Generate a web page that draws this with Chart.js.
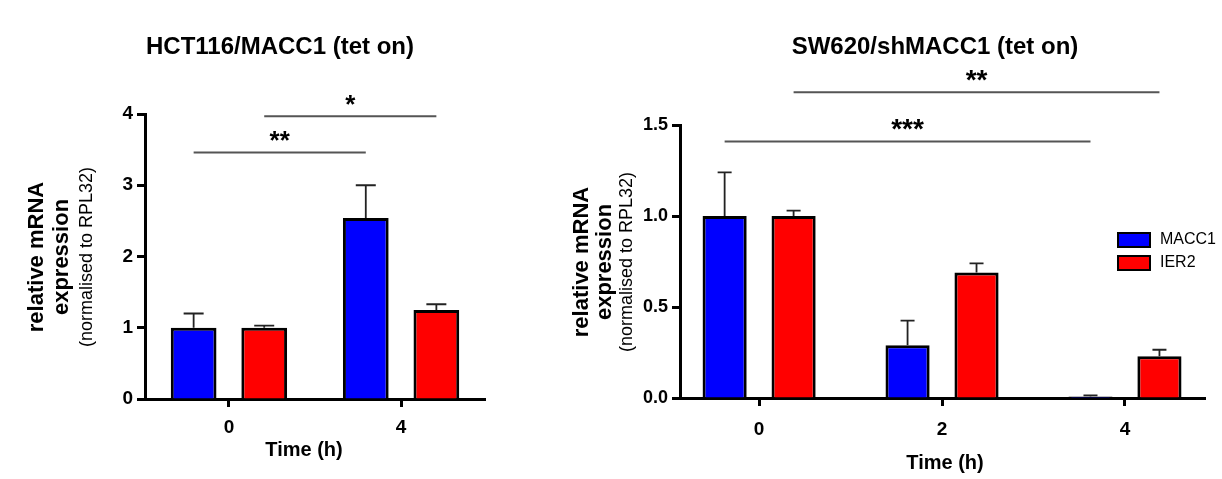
<!DOCTYPE html>
<html>
<head>
<meta charset="utf-8">
<title>MACC1 / IER2 relative mRNA expression</title>
<script src="https://cdn.jsdelivr.net/npm/chart.js@4.4.1/dist/chart.umd.min.js"></script>
<style>
  html, body { margin: 0; padding: 0; background: #fff; }
  #wrap { position: relative; width: 1222px; height: 479px; }
  #leftBox { position: absolute; left: 0; top: 0; width: 560px; height: 479px; }
  #rightBox { position: absolute; left: 560px; top: 0; width: 662px; height: 479px; }
</style>
</head>
<body>
<div id="wrap">
  <div id="leftBox"><canvas id="leftChart"></canvas></div>
  <div id="rightBox"><canvas id="rightChart"></canvas></div>
</div>
<script>
// Data - HCT116/MACC1 (tet on)
const leftTimes = [0, 4];
const leftMacc1 = [1.0, 2.54];
const leftMacc1Err = [0.2, 0.46];
const leftIer2 = [1.0, 1.25];
const leftIer2Err = [0.03, 0.08];
const leftBrackets = [
    { label: '**', series: 0, from: 0, to: 1, level: 3.46 },
    { label: '*', series: 1, from: 0, to: 1, level: 3.97 }
];

// Data - SW620/shMACC1 (tet on)
const rightTimes = [0, 2, 4];
const rightMacc1 = [1.0, 0.29, 0.008];
const rightMacc1Err = [0.24, 0.135, 0.006];
const rightIer2 = [1.0, 0.69, 0.23];
const rightIer2Err = [0.03, 0.05, 0.035];
const rightBrackets = [
    { label: '***', series: 0, from: 0, to: 2, level: 1.41 },
    { label: '**', series: 1, from: 0, to: 2, level: 1.68 }
];

const seriesNames = ['MACC1', 'IER2'];
const seriesColors = ['#0000ff', '#ff0000'];

const FONT = "'Liberation Sans', Arial, sans-serif";
Chart.defaults.font.family = FONT;
Chart.defaults.color = '#000';

// error bars, significance lines, titles and legend
const figurePlugin = {
    id: 'figure',
    afterDatasetsDraw(chart, args, opts) {
        const ctx = chart.ctx;
        const yScale = chart.scales.y;
        ctx.save();

        // upper error bars
        ctx.strokeStyle = '#222';
        ctx.lineWidth = 1.8;
        chart.data.datasets.forEach((ds, di) => {
            chart.getDatasetMeta(di).data.forEach((bar, i) => {
                const top = yScale.getPixelForValue(ds.data[i].y + ds.errors[i]);
                ctx.beginPath();
                ctx.moveTo(bar.x, bar.y);
                ctx.lineTo(bar.x, top);
                ctx.moveTo(bar.x - opts.capWidth / 2, top);
                ctx.lineTo(bar.x + opts.capWidth / 2, top);
                ctx.stroke();
            });
        });

        // significance lines
        ctx.strokeStyle = '#555';
        ctx.lineWidth = 2;
        ctx.fillStyle = '#000';
        ctx.font = 'bold ' + opts.starSize + 'px ' + FONT;
        ctx.textAlign = 'center';
        ctx.textBaseline = 'alphabetic';
        opts.brackets.forEach(b => {
            const bars = chart.getDatasetMeta(b.series).data;
            const x1 = bars[b.from].x;
            const x2 = bars[b.to].x;
            const yy = yScale.getPixelForValue(b.level);
            ctx.beginPath();
            ctx.moveTo(x1, yy);
            ctx.lineTo(x2, yy);
            ctx.stroke();
            ctx.fillText(b.label, (x1 + x2) / 2, yy - 3);
        });
        ctx.restore();
    },
    afterDraw(chart, args, opts) {
        const ctx = chart.ctx;
        ctx.save();
        ctx.fillStyle = '#000';
        ctx.textAlign = 'center';
        ctx.textBaseline = 'middle';

        ctx.font = 'bold 24px ' + FONT;
        ctx.fillText(opts.title.text, opts.title.x, opts.title.y);

        ctx.font = 'bold 20px ' + FONT;
        ctx.fillText('Time (h)', opts.xTitle.x, opts.xTitle.y);

        // rotated y title
        const yt = opts.yTitle;
        const lines = [
            { text: 'relative mRNA', font: 'bold 22px ' + FONT },
            { text: 'expression', font: 'bold 22px ' + FONT },
            { text: '(normalised to RPL32)', font: '18px ' + FONT }
        ];
        lines.forEach((l, i) => {
            ctx.save();
            ctx.translate(yt.x[i], yt.y);
            ctx.rotate(-Math.PI / 2);
            ctx.font = l.font;
            ctx.fillText(l.text, 0, 0);
            ctx.restore();
        });

        if (opts.legend) {
            ctx.textAlign = 'left';
            ctx.font = '16px ' + FONT;
            chart.data.datasets.forEach((ds, i) => {
                const ly = opts.legend.y[i];
                ctx.fillStyle = ds.backgroundColor;
                ctx.fillRect(opts.legend.x, ly - 7, 32, 14);
                ctx.strokeStyle = '#000';
                ctx.lineWidth = 2;
                ctx.strokeRect(opts.legend.x, ly - 7, 32, 14);
                ctx.fillStyle = '#000';
                ctx.fillText(ds.label, opts.legend.x + 42, ly);
            });
        }
        ctx.restore();
    }
};

function makeDatasets(times, series, errors, catPct, barPct) {
    return series.map((values, s) => ({
        label: seriesNames[s],
        data: times.map((t, i) => ({ x: t, y: values[i] })),
        errors: errors[s],
        backgroundColor: seriesColors[s],
        borderColor: '#000',
        borderWidth: 3,
        categoryPercentage: catPct,
        barPercentage: barPct
    }));
}

function axisStyle(size, pad) {
    return {
        grid: { drawOnChartArea: false, drawTicks: true, offset: false, tickLength: 8, tickWidth: 3, tickColor: '#000' },
        border: { color: '#000', width: 3 },
        ticks: { color: '#000', font: { size: size, weight: 'bold' }, padding: pad }
    };
}

function makeChart(id, cfg) {
    const xAxis = axisStyle(19, cfg.xPad);
    const yAxis = axisStyle(cfg.yFont, 4);
    return new Chart(document.getElementById(id), {
        type: 'bar',
        data: {
            datasets: makeDatasets(cfg.times, cfg.series, cfg.errors, cfg.catPct, cfg.barPct)
        },
        options: {
            responsive: true,
            maintainAspectRatio: false,
            animation: false,
            layout: { padding: cfg.padding },
            plugins: {
                legend: { display: false },
                tooltip: { enabled: false },
                figure: cfg.figure
            },
            scales: {
                x: Object.assign(xAxis, {
                    type: 'linear',
                    offset: false,
                    min: cfg.xMin,
                    max: cfg.xMax,
                    afterBuildTicks: s => { s.ticks = cfg.times.map(v => ({ value: v })); },
                    afterFit: s => { s.height = cfg.xHeight; }
                }),
                y: Object.assign(yAxis, {
                    min: 0,
                    max: cfg.yMax,
                    ticks: Object.assign(yAxis.ticks, {
                        stepSize: cfg.yStep,
                        callback: v => cfg.yDigits ? v.toFixed(cfg.yDigits) : String(v)
                    }),
                    afterFit: s => { s.width = cfg.yWidth; }
                })
            }
        },
        plugins: [figurePlugin]
    });
}

makeChart('leftChart', {
    times: leftTimes,
    series: [leftMacc1, leftIer2],
    errors: [leftMacc1Err, leftIer2Err],
    catPct: 0.82, barPct: 0.648,
    padding: { left: 0, top: 114, right: 75, bottom: 0 },
    xMin: -1.95, xMax: 5.95, xHeight: 80, xPad: 9,
    yMax: 4, yStep: 1, yDigits: 0, yWidth: 145, yFont: 19,
    figure: {
        capWidth: 20, starSize: 26,
        brackets: leftBrackets,
        title: { text: 'HCT116/MACC1 (tet on)', x: 280, y: 47 },
        xTitle: { x: 304, y: 450 },
        yTitle: { x: [37, 62, 87], y: 257 }
    }
});

makeChart('rightChart', {
    times: rightTimes,
    series: [rightMacc1, rightIer2],
    errors: [rightMacc1Err, rightIer2Err],
    catPct: 0.754, barPct: 0.64,
    padding: { left: 0, top: 125, right: 17, bottom: 0 },
    xMin: -0.865, xMax: 4.875, xHeight: 81, xPad: 12,
    yMax: 1.5, yStep: 0.5, yDigits: 1, yWidth: 120, yFont: 18,
    figure: {
        capWidth: 14, starSize: 28,
        brackets: rightBrackets,
        title: { text: 'SW620/shMACC1 (tet on)', x: 375, y: 47 },
        xTitle: { x: 385, y: 463 },
        yTitle: { x: [22, 45, 67], y: 262 },
        legend: { x: 558, y: [240, 263] }
    }
});
</script>
</body>
</html>
